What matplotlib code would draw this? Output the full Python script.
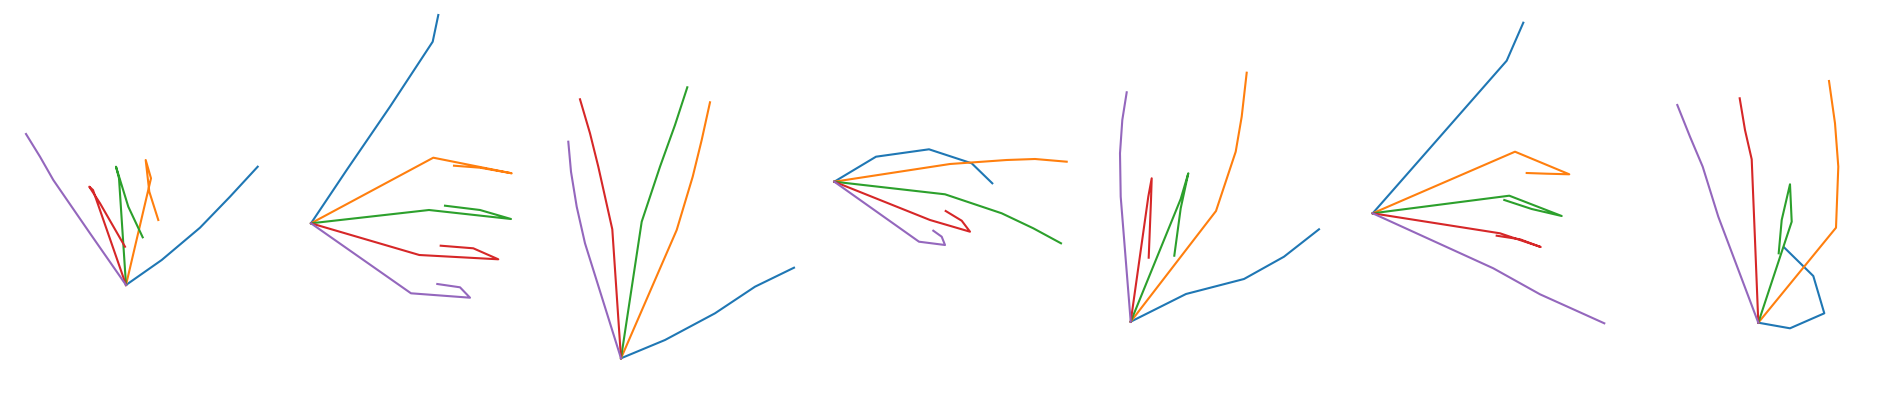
import matplotlib
matplotlib.use("Agg")
import matplotlib.pyplot as plt

# Seven hand poses; joint positions (x, y) (pixel space, y down)
WRIST = [(126, 285), (311, 223.3), (621, 358.3), (834.3, 181.7),
         (1130.7, 321.7), (1372.7, 213.3), (1758.3, 322.7)]

THUMB = [
    [(161.7, 260), (200, 227.7), (230, 196.7), (257.7, 166.7)],
    [(346.7, 170), (390, 106.7), (432.7, 41.7), (438.3, 15)],
    [(665, 340), (715, 313.3), (755, 286.7), (794, 267.7)],
    [(876, 156.7), (929, 149.3), (971.7, 163.3), (992.3, 183.3)],
    [(1186, 294), (1244, 279), (1284, 256.7), (1319, 229.3)],
    [(1423.3, 155.7), (1465, 108.2), (1506.7, 60.7), (1523.3, 22.7)],
    [(1790, 328.3), (1824.3, 313.3), (1813.3, 276), (1784, 247.3)],
]
INDEX = [
    [(151, 178.3), (145.7, 160), (149.3, 191.7), (158.3, 220)],
    [(433.3, 157.7), (511.7, 173.3), (480, 167.7), (454, 165.7)],
    [(676.7, 230), (692.7, 176.7), (701.7, 140), (710, 102.3)],
    [(950, 164), (1006.7, 160), (1035, 159), (1066.7, 161.7)],
    [(1216, 211), (1235.7, 151.7), (1241.7, 116.7), (1246.7, 72.7)],
    [(1515, 151.7), (1569.3, 174.3), (1546.7, 173.7), (1526.7, 173)],
    [(1836, 227.7), (1838.3, 166.7), (1835, 123.3), (1829, 81)],
]
MIDDLE = [
    [(119, 178.3), (116, 166.7), (128.3, 206.7), (142.7, 237.3)],
    [(429, 210), (511, 219), (480, 210), (445, 205.7)],
    [(641.7, 221.7), (660, 166.7), (675, 125), (687.3, 87.3)],
    [(945, 194.3), (1001.7, 213.3), (1033.3, 228.3), (1061, 243.3)],
    [(1180.7, 199), (1188.3, 173.3), (1180.7, 208.3), (1174.3, 255.7)],
    [(1509.3, 195.7), (1561.7, 216), (1531.7, 209), (1504.3, 200)],
    [(1791.7, 221.7), (1790, 184.3), (1781.7, 220), (1778.7, 253.3)],
]
RING = [
    [(93, 190), (89.3, 186.7), (100, 203.3), (125, 246.7)],
    [(419.3, 255), (498.3, 259.3), (473.3, 248.3), (440.7, 245.7)],
    [(612.3, 229.3), (598.3, 166.7), (590, 133.3), (580, 99.3)],
    [(930, 220), (970, 231.7), (961.7, 220.7), (945.7, 211)],
    [(1148.3, 196.7), (1151.7, 178.3), (1151, 200), (1148.7, 257.7)],
    [(1500, 233.3), (1540.7, 247), (1520, 239.3), (1496.7, 235.7)],
    [(1755, 240), (1751.7, 159.3), (1745, 130), (1739.7, 98.3)],
]
PINKY = [
    [(90, 233.3), (53.3, 180), (40, 156.7), (26, 134)],
    [(411, 293.3), (470, 297.7), (460, 287.3), (437.3, 284)],
    [(585, 243.3), (576.7, 206.7), (571, 171.7), (568.3, 141.7)],
    [(919, 241.7), (945, 245), (941.7, 236.7), (933.3, 230.7)],
    [(1120.7, 196.7), (1120, 153.3), (1122.3, 120), (1126.7, 92.3)],
    [(1493.3, 268.3), (1540, 294.3), (1573.3, 309.3), (1604.3, 323.3)],
    [(1718.3, 216.7), (1702.7, 166.7), (1690, 136.7), (1677.3, 105)],
]

FINGERS = [THUMB, INDEX, MIDDLE, RING, PINKY]
COLORS = ["#1f77b4", "#ff7f0e", "#2ca02c", "#d62728", "#9467bd"]

fig = plt.figure(figsize=(19, 4), dpi=100)
ax = fig.add_axes([0, 0, 1, 1])
for p, wrist in enumerate(WRIST):
    for finger, color in zip(FINGERS, COLORS):
        pts = [wrist] + finger[p]
        xs = [q[0] for q in pts]
        ys = [q[1] for q in pts]
        ax.plot(xs, ys, color=color, linewidth=1.5)
ax.set_xlim(0, 1900)
ax.set_ylim(400, 0)
ax.axis("off")
fig.savefig("out.png", dpi=100)
